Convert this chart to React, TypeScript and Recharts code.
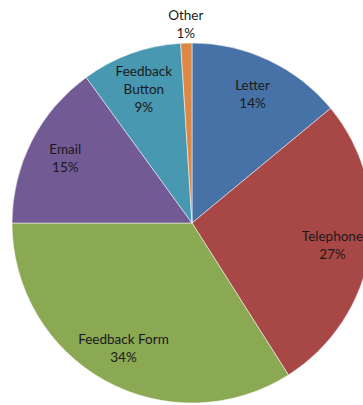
import { PieChart, Pie, Cell } from 'recharts'

const categories = ['Letter', 'Telephone', 'Feedback Form', 'Email', 'Feedback Button', 'Other']
const shares = [14, 27, 34, 15, 9, 1]
const colors = ['#4672A8', '#A84846', '#8BA852', '#725A94', '#4898B1', '#DE8845']

const data = categories.map((name, i) => ({ name, value: shares[i] }))

const RAD = Math.PI / 180

function SliceLabel(props: any) {
  const { cx, cy, midAngle, outerRadius, index, payload } = props
  const outside = payload.value < 3
  const r = outside ? outerRadius + 19 : outerRadius * 0.79
  const x = cx + r * Math.cos(-midAngle * RAD)
  const y = cy + r * Math.sin(-midAngle * RAD)
  const words = payload.name.split(' ')
  // Excel wraps "Feedback Button" onto two lines, but keeps "Feedback Form" on one
  const lines = index === 4 ? [...words, `${payload.value}%`] : [payload.name, `${payload.value}%`]
  const lh = 18
  const top = y - ((lines.length - 1) * lh) / 2
  return (
    <text
      x={x}
      y={top}
      textAnchor="middle"
      dominantBaseline="central"
      fill="#1a1a1a"
      fontSize={13.5}
      fontFamily="Lato, 'Open Sans', sans-serif"
    >
      {lines.map((l: string, i: number) => (
        <tspan key={i} x={x} y={top + i * lh}>
          {l}
        </tspan>
      ))}
    </text>
  )
}

export default function App() {
  return (
    <div style={{ position: 'absolute', left: 0, top: 0, width: 363, height: 405, background: '#fff' }}>
      <PieChart width={363} height={405} margin={{ top: 0, right: 0, bottom: 0, left: 0 }}>
        <Pie
          data={data}
          dataKey="value"
          nameKey="name"
          cx={192}
          cy={223}
          outerRadius={180}
          startAngle={90}
          endAngle={-270}
          stroke="#ffffff"
          strokeWidth={0.5}
          label={SliceLabel}
          labelLine={false}
          isAnimationActive={false}
        >
          {data.map((d, i) => (
            <Cell key={d.name} fill={colors[i]} />
          ))}
        </Pie>
      </PieChart>
    </div>
  )
}
